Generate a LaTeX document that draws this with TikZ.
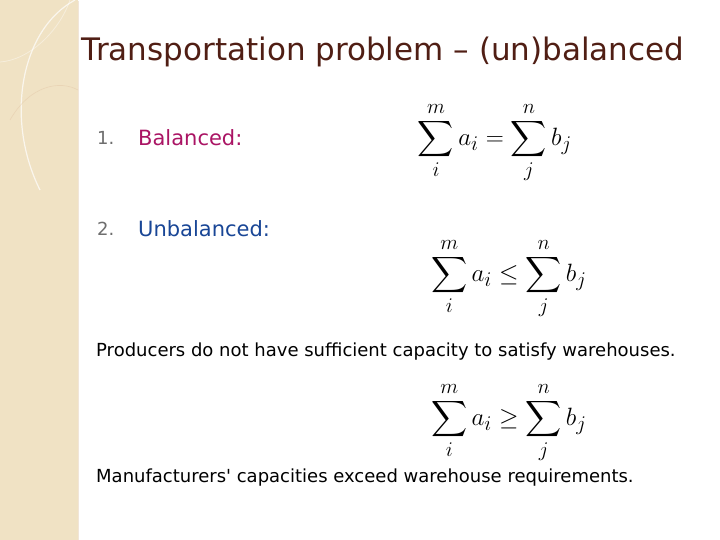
\documentclass[tikz,border=0pt]{standalone}
\usepackage{amsmath}
\usepackage{fontspec}
\newfontfamily\comic{DejaVu Sans}
\begin{document}
\begin{tikzpicture}[x=1pt,y=-1pt,
  txt/.style={anchor=west,inner sep=0pt,font=\comic\fontsize{18}{20}\selectfont},
  eq/.style={inner sep=0pt,font=\fontsize{19}{22}\selectfont}]
\useasboundingbox (0,0) rectangle (720,540);
\fill[white] (0,0) rectangle (720,540);
\fill[fill={rgb,255:red,240;green,226;blue,196}] (0,0) rectangle (78,540);
\draw[white,opacity=0.7,line width=1.2pt] (75,0) .. controls (20,30) and (5,120) .. (40,190);
\draw[white,opacity=0.4,line width=0.8pt] (0,62) .. controls (30,60) and (60,30) .. (70,0);
\draw[brown!50,opacity=0.4,line width=0.6pt] (10,120) .. controls (30,85) and (60,80) .. (78,90);
\draw[brown!40!white,opacity=0.5] (78,1) -- (78,540);
\node[anchor=center,inner sep=0pt,font=\comic\fontsize{31}{34}\selectfont,text={rgb,255:red,80;green,30;blue,20}] (title) at (383,52) {Transportation problem – (un)balanced};
\node[txt,text={rgb,255:red,110;green,110;blue,110}] (n1) at (97,138) {1.};
\node[txt,text={rgb,255:red,170;green,20;blue,100},font=\comic\fontsize{21}{24}\selectfont] (b) at (138,138) {Balanced:};
\node[txt,text={rgb,255:red,110;green,110;blue,110}] (n2) at (97,229) {2.};
\node[txt,text={rgb,255:red,25;green,70;blue,150},font=\comic\fontsize{21}{24}\selectfont] (u) at (138,229) {Unbalanced:};
\node[eq] (e1) at (495,143) {\scalebox{1.45}{$\displaystyle\sum_{i}^{m} a_i = \sum_{j}^{n} b_j$}};
\node[eq] (e2) at (509,279) {\scalebox{1.45}{$\displaystyle\sum_{i}^{m} a_i \le \sum_{j}^{n} b_j$}};
\node[eq] (e3) at (509,423) {\scalebox{1.45}{$\displaystyle\sum_{i}^{m} a_i \ge \sum_{j}^{n} b_j$}};
\node[txt] (t1) at (96,352) {Producers do not have sufficient capacity to satisfy warehouses.};
\node[txt] (t2) at (96,478) {Manufacturers' capacities exceed warehouse requirements.};
\end{tikzpicture}
\end{document}
